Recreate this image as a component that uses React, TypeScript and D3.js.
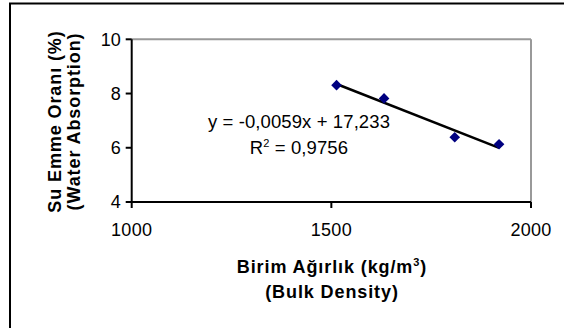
import React from "react";
import * as d3 from "d3";

const density = [1513, 1632, 1809, 1920];
const absorption = [8.31, 7.82, 6.39, 6.13];
const xTicks = [1000, 1500, 2000];
const yTicks = [4, 6, 8, 10];
const equationText = "y = -0,0059x + 17,233";
const r2Value = " = 0,9756";

const W = 564;
const H = 328;
const FONT = "'Liberation Sans', Arial, Helvetica, sans-serif";

export default function App() {
  const left = 131.7, right = 531, top = 39.3, bottom = 202;
  const x = d3.scaleLinear().domain([1000, 2000]).range([left, right]);
  const y = d3.scaleLinear().domain([4, 10]).range([bottom, top]);

  // least squares trend line
  const mx = d3.mean(density)!;
  const my = d3.mean(absorption)!;
  let sxy = 0, sxx = 0;
  density.forEach((d, i) => {
    sxy += (d - mx) * (absorption[i] - my);
    sxx += (d - mx) * (d - mx);
  });
  const slope = sxy / sxx;
  const intercept = my - slope * mx;
  const x0 = d3.min(density)!, x1 = d3.max(density)!;
  const line = d3.line<number>().x((d) => x(d)).y((d) => y(slope * d + intercept));

  const diamond = d3.symbol().type(d3.symbolDiamond2).size(72)();

  return (
    <svg width={W} height={H} style={{ position: "absolute", left: 0, top: 0, background: "#fff" }} fontFamily={FONT}>
      <rect x={0} y={0} width={W} height={H} fill="#fff" />
      {/* outer border (clipped at right/bottom) */}
      <rect x={10} y={3.5} width={700} height={500} fill="none" stroke="#000" strokeWidth={2} />

      {/* plot frame: top/right gray */}
      <line x1={left} y1={top} x2={right} y2={top} stroke="#999" strokeWidth={2} />
      <line x1={right} y1={top} x2={right} y2={bottom} stroke="#999" strokeWidth={2} />

      {/* axes */}
      <line x1={left} y1={top} x2={left} y2={bottom} stroke="#000" strokeWidth={2} />
      <line x1={left} y1={bottom} x2={right} y2={bottom} stroke="#000" strokeWidth={2} />

      {yTicks.map((t) => (
        <g key={"y" + t}>
          <line x1={left - 6} x2={left} y1={y(t)} y2={y(t)} stroke="#000" strokeWidth={2} />
          <text x={left - 11} y={y(t)} dy="0.36em" textAnchor="end" fontSize={18} fill="#000">
            {t}
          </text>
        </g>
      ))}
      {xTicks.map((t) => (
        <g key={"x" + t}>
          <line x1={x(t)} x2={x(t)} y1={bottom} y2={bottom + 6} stroke="#000" strokeWidth={2} />
          <text x={x(t)} y={236} textAnchor="middle" fontSize={18} letterSpacing={0.3} fill="#000">
            {t}
          </text>
        </g>
      ))}

      {/* trend line */}
      <path d={line([x0, x1]) || ""} stroke="#000" strokeWidth={2.5} fill="none" />

      {/* points */}
      {density.map((d, i) => (
        <path key={i} d={diamond || ""} transform={`translate(${x(d)},${y(absorption[i])})`} fill="#000080" />
      ))}

      {/* equation */}
      <text x={299} y={128.3} textAnchor="middle" fontSize={18.5} letterSpacing={0.1} fill="#000">
        {equationText}
      </text>
      <text x={299} y={154.3} textAnchor="middle" fontSize={18.5} letterSpacing={0.1} fill="#000">
        R<tspan fontSize={11} dy={-7}>2</tspan>
        <tspan dy={7}>{r2Value}</tspan>
      </text>

      {/* x title */}
      <text x={332} y={272.7} textAnchor="middle" fontSize={18} fontWeight="bold" letterSpacing={0.9} fill="#000">
        Birim Ağırlık (kg/m<tspan fontSize={11} dy={-7}>3</tspan>
        <tspan dy={7}>)</tspan>
      </text>
      <text x={332} y={297.5} textAnchor="middle" fontSize={18} fontWeight="bold" letterSpacing={0.9} fill="#000">
        (Bulk Density)
      </text>

      {/* y title */}
      <g transform={`translate(61,121.5) rotate(-90)`}>
        <text x={0} y={0} textAnchor="middle" fontSize={18} fontWeight="bold" letterSpacing={0.9} fill="#000">
          Su Emme Oranı (%)
        </text>
      </g>
      <g transform={`translate(80,121.5) rotate(-90)`}>
        <text x={0} y={0} textAnchor="middle" fontSize={18} fontWeight="bold" letterSpacing={0.9} fill="#000">
          (Water Absorption)
        </text>
      </g>
    </svg>
  );
}
